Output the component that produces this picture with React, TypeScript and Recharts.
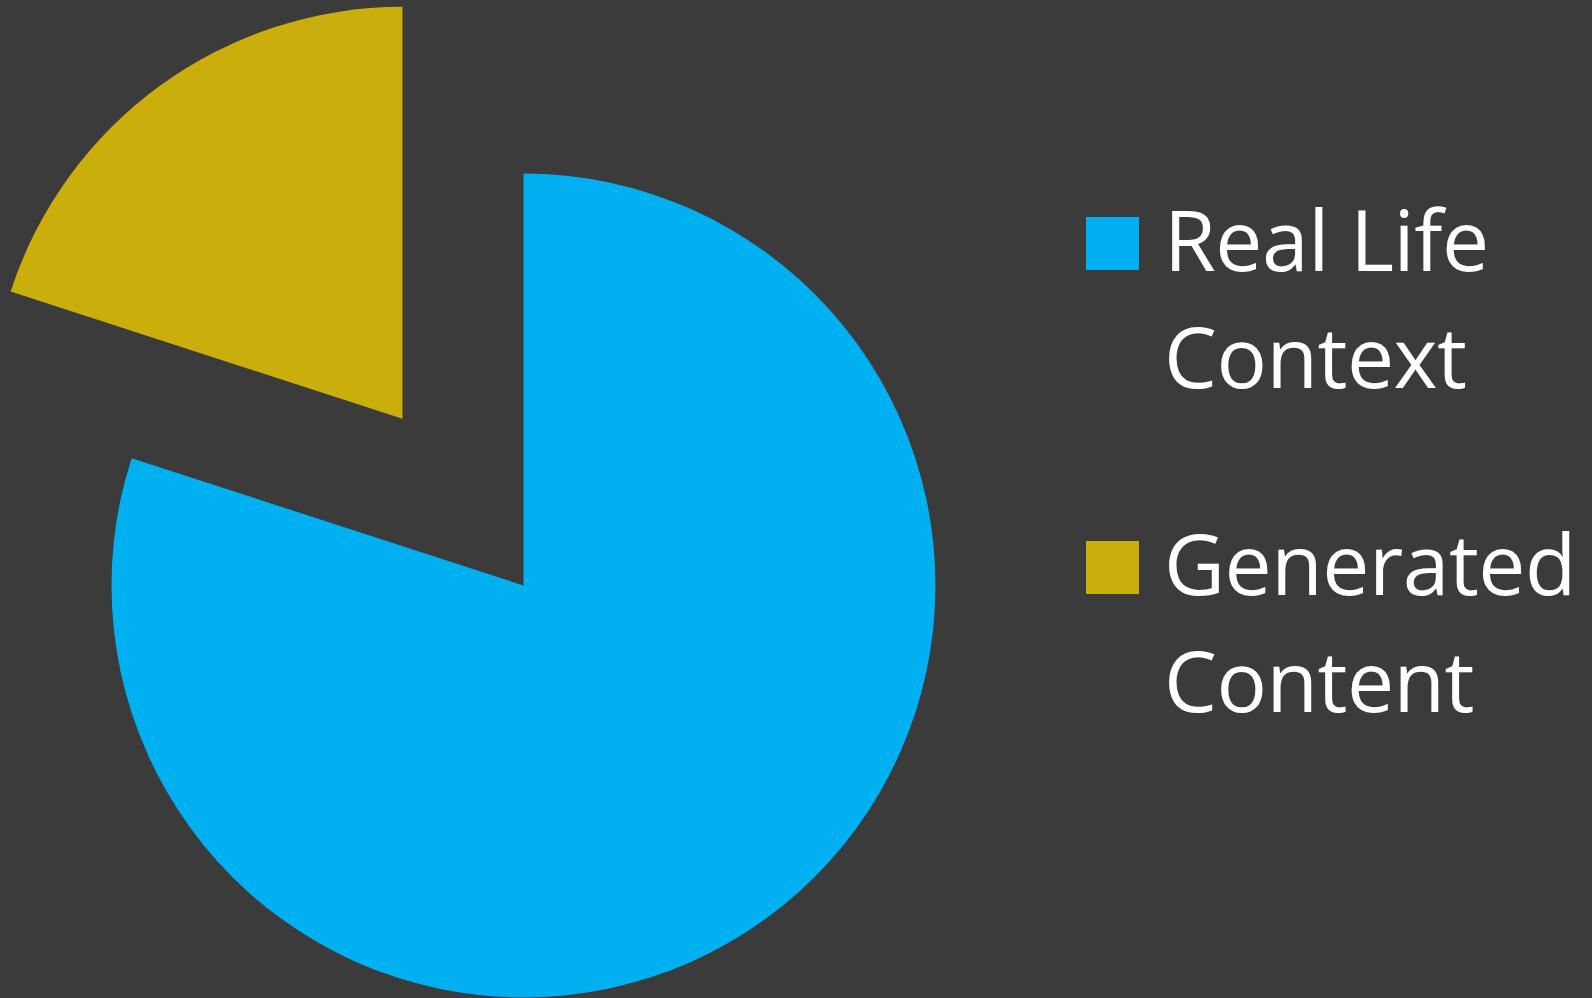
import { PieChart, Pie, Cell, Legend } from "recharts";

const names = ["Real Life Context", "Generated Content"];
const legendLines = [["Real Life", "Context"], ["Generated", "Content"]];
const values = [80, 20];
const colors = ["#00B0F0", "#CAAE0B"];

const BG = "#3B3B3B";
const CX = 523.5;
const CY = 585.5;
const R = 412;
const EXPLODE = 206;

const data = names.map((name, i) => ({ name, value: values[i] }));

// mid angle of the exploded (second) slice, clockwise from 12 o'clock
const total = values.reduce((a, b) => a + b, 0);
const midDeg = 90 - (360 * (values[0] + values[1] / 2)) / total;
const midRad = (midDeg * Math.PI) / 180;
const cx2 = CX + EXPLODE * Math.cos(midRad);
const cy2 = CY - EXPLODE * Math.sin(midRad);

function LegendBox() {
  return (
    <div style={{ fontFamily: "'Open Sans', sans-serif", color: "#fff" }}>
      {legendLines.map((lines, i) => (
        <div key={names[i]} style={{ position: "relative", marginBottom: 90, paddingLeft: 78 }}>
          <div
            style={{
              position: "absolute",
              left: 0,
              top: 37,
              width: 53,
              height: 53,
              background: colors[i],
            }}
          />
          {lines.map((l) => (
            <div
              key={l}
              style={{ fontSize: 84, lineHeight: "117px", letterSpacing: -0.5, whiteSpace: "nowrap" }}
            >
              {l}
            </div>
          ))}
        </div>
      ))}
    </div>
  );
}

export default function App() {
  return (
    <div style={{ position: "fixed", left: 0, top: 0, width: 1592, height: 998, background: BG, overflow: "hidden" }}>
      <PieChart width={1592} height={998} margin={{ top: 0, right: 0, bottom: 0, left: 0 }}>
        <Pie
          data={data}
          dataKey="value"
          nameKey="name"
          cx={CX}
          cy={CY}
          outerRadius={R}
          startAngle={90}
          endAngle={-270}
          stroke="none"
          isAnimationActive={false}
        >
          {data.map((d, i) => (
            <Cell key={d.name} fill={i === 0 ? colors[i] : "transparent"} stroke="none" />
          ))}
        </Pie>
        <Pie
          data={data}
          dataKey="value"
          nameKey="name"
          cx={cx2}
          cy={cy2}
          outerRadius={R}
          startAngle={90}
          endAngle={-270}
          stroke="none"
          isAnimationActive={false}
        >
          {data.map((d, i) => (
            <Cell key={d.name} fill={i === 1 ? colors[i] : "transparent"} stroke="none" />
          ))}
        </Pie>
        <Legend
          content={() => <LegendBox />}
          wrapperStyle={{ position: "absolute", left: 1086, top: 180, width: 506 }}
        />
      </PieChart>
    </div>
  );
}
